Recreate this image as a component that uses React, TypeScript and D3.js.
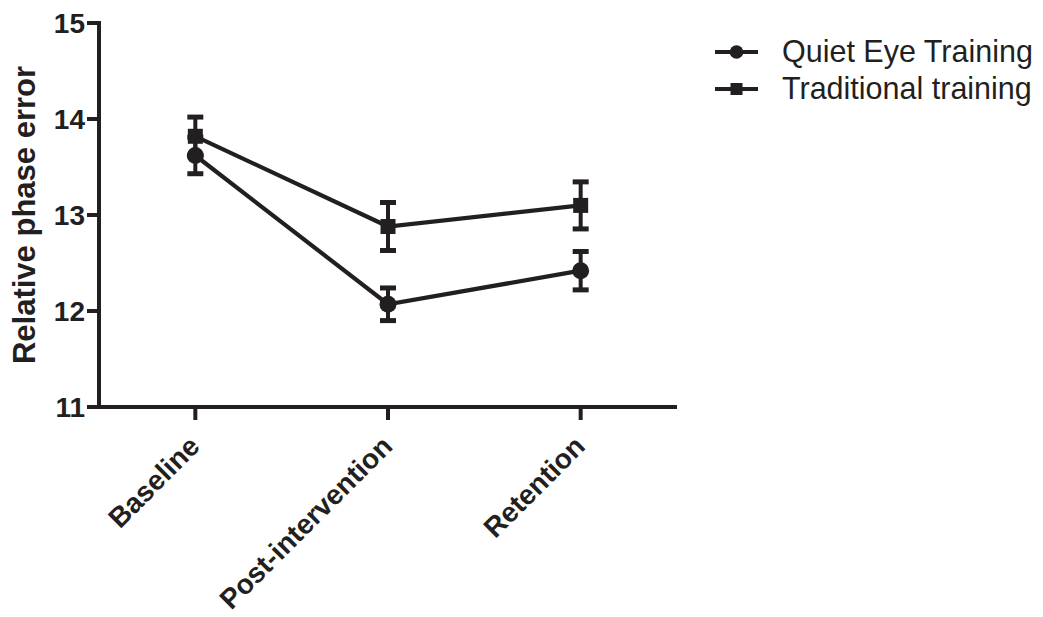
import React from "react";
import * as d3 from "d3";

const categories = ["Baseline", "Post-intervention", "Retention"];
const seriesNames = ["Quiet Eye Training", "Traditional training"];
const quietEyeMean = [13.62, 12.07, 12.42];
const quietEyeSem = [0.19, 0.17, 0.2];
const traditionalMean = [13.82, 12.88, 13.1];
const traditionalSem = [0.2, 0.25, 0.245];
const yTicks = [11, 12, 13, 14, 15];

const INK = "#231f20";
const FONT = "'Liberation Sans', Arial, Helvetica, sans-serif";

export default function App() {
  const x = d3.scaleBand<string>().domain(categories).range([99, 677]);
  const cx = (c: string) => (x(c) as number) + x.bandwidth() / 2;
  const y = d3.scaleLinear().domain([11, 15]).range([407, 23]);

  const line = d3
    .line<[number, number]>()
    .x((d) => d[0])
    .y((d) => d[1]);

  const series = [
    { name: seriesNames[0], mean: quietEyeMean, sem: quietEyeSem, shape: "circle" },
    { name: seriesNames[1], mean: traditionalMean, sem: traditionalSem, shape: "square" },
  ];

  const marker = (shape: string, px: number, py: number, key: string, size = 1) =>
    shape === "circle" ? (
      <circle key={key} cx={px} cy={py} r={8.5 * size} fill={INK} />
    ) : (
      <rect key={key} x={px - 7.5 * size} y={py - 7.5 * size} width={15 * size} height={15 * size} fill={INK} />
    );

  return (
    <svg
      width={1043}
      height={617}
      style={{ position: "absolute", left: 0, top: 0, background: "#fff" }}
      fontFamily={FONT}
    >
      {/* axes */}
      <line x1={99} x2={99} y1={21} y2={409} stroke={INK} strokeWidth={4} />
      <line x1={97} x2={677} y1={407} y2={407} stroke={INK} strokeWidth={4} />
      {yTicks.map((t) => (
        <g key={"yt" + t}>
          <line x1={87} x2={99} y1={y(t)} y2={y(t)} stroke={INK} strokeWidth={4} />
          <text x={85} y={y(t) + 10} textAnchor="end" fontSize={28} fontWeight="bold" fill={INK}>
            {t}
          </text>
        </g>
      ))}
      {categories.map((c) => (
        <g key={"xt" + c}>
          <line x1={cx(c)} x2={cx(c)} y1={407} y2={420} stroke={INK} strokeWidth={4} />
          <text
            transform={`translate(${cx(c) + 6},${448}) rotate(-45)`}
            textAnchor="end"
            fontSize={28}
            fontWeight="bold"
            fill={INK}
          >
            {c}
          </text>
        </g>
      ))}
      <text
        transform={`translate(35,${(y(11) + y(15)) / 2}) rotate(-90)`}
        textAnchor="middle"
        fontSize={31}
        fontWeight="bold"
        fill={INK}
      >
        Relative phase error
      </text>

      {/* lines */}
      {series.map((s) => (
        <path
          key={"l" + s.name}
          d={line(categories.map((c, i) => [cx(c), y(s.mean[i])])) as string}
          fill="none"
          stroke={INK}
          strokeWidth={4.2}
        />
      ))}
      {/* error bars */}
      {series.map((s) =>
        categories.map((c, i) => {
          const px = cx(c);
          const top = y(s.mean[i] + s.sem[i]);
          const bot = y(s.mean[i] - s.sem[i]);
          return (
            <g key={"e" + s.name + c}>
              <line x1={px} x2={px} y1={top} y2={bot} stroke={INK} strokeWidth={4} />
              <line x1={px - 8} x2={px + 8} y1={top} y2={top} stroke={INK} strokeWidth={5} />
              <line x1={px - 8} x2={px + 8} y1={bot} y2={bot} stroke={INK} strokeWidth={5} />
            </g>
          );
        })
      )}
      {/* markers */}
      {series.map((s) => categories.map((c, i) => marker(s.shape, cx(c), y(s.mean[i]), "m" + s.name + c)))}

      {/* legend */}
      {series.map((s, i) => {
        const ly = 52 + i * 37;
        return (
          <g key={"lg" + s.name}>
            <line x1={715} x2={758} y1={ly} y2={ly} stroke={INK} strokeWidth={4} />
            {marker(s.shape, 736.5, ly, "lm" + s.name, 0.8)}
            <text x={782} y={ly + 10} fontSize={30.5} fill={INK}>
              {s.name}
            </text>
          </g>
        );
      })}
    </svg>
  );
}
